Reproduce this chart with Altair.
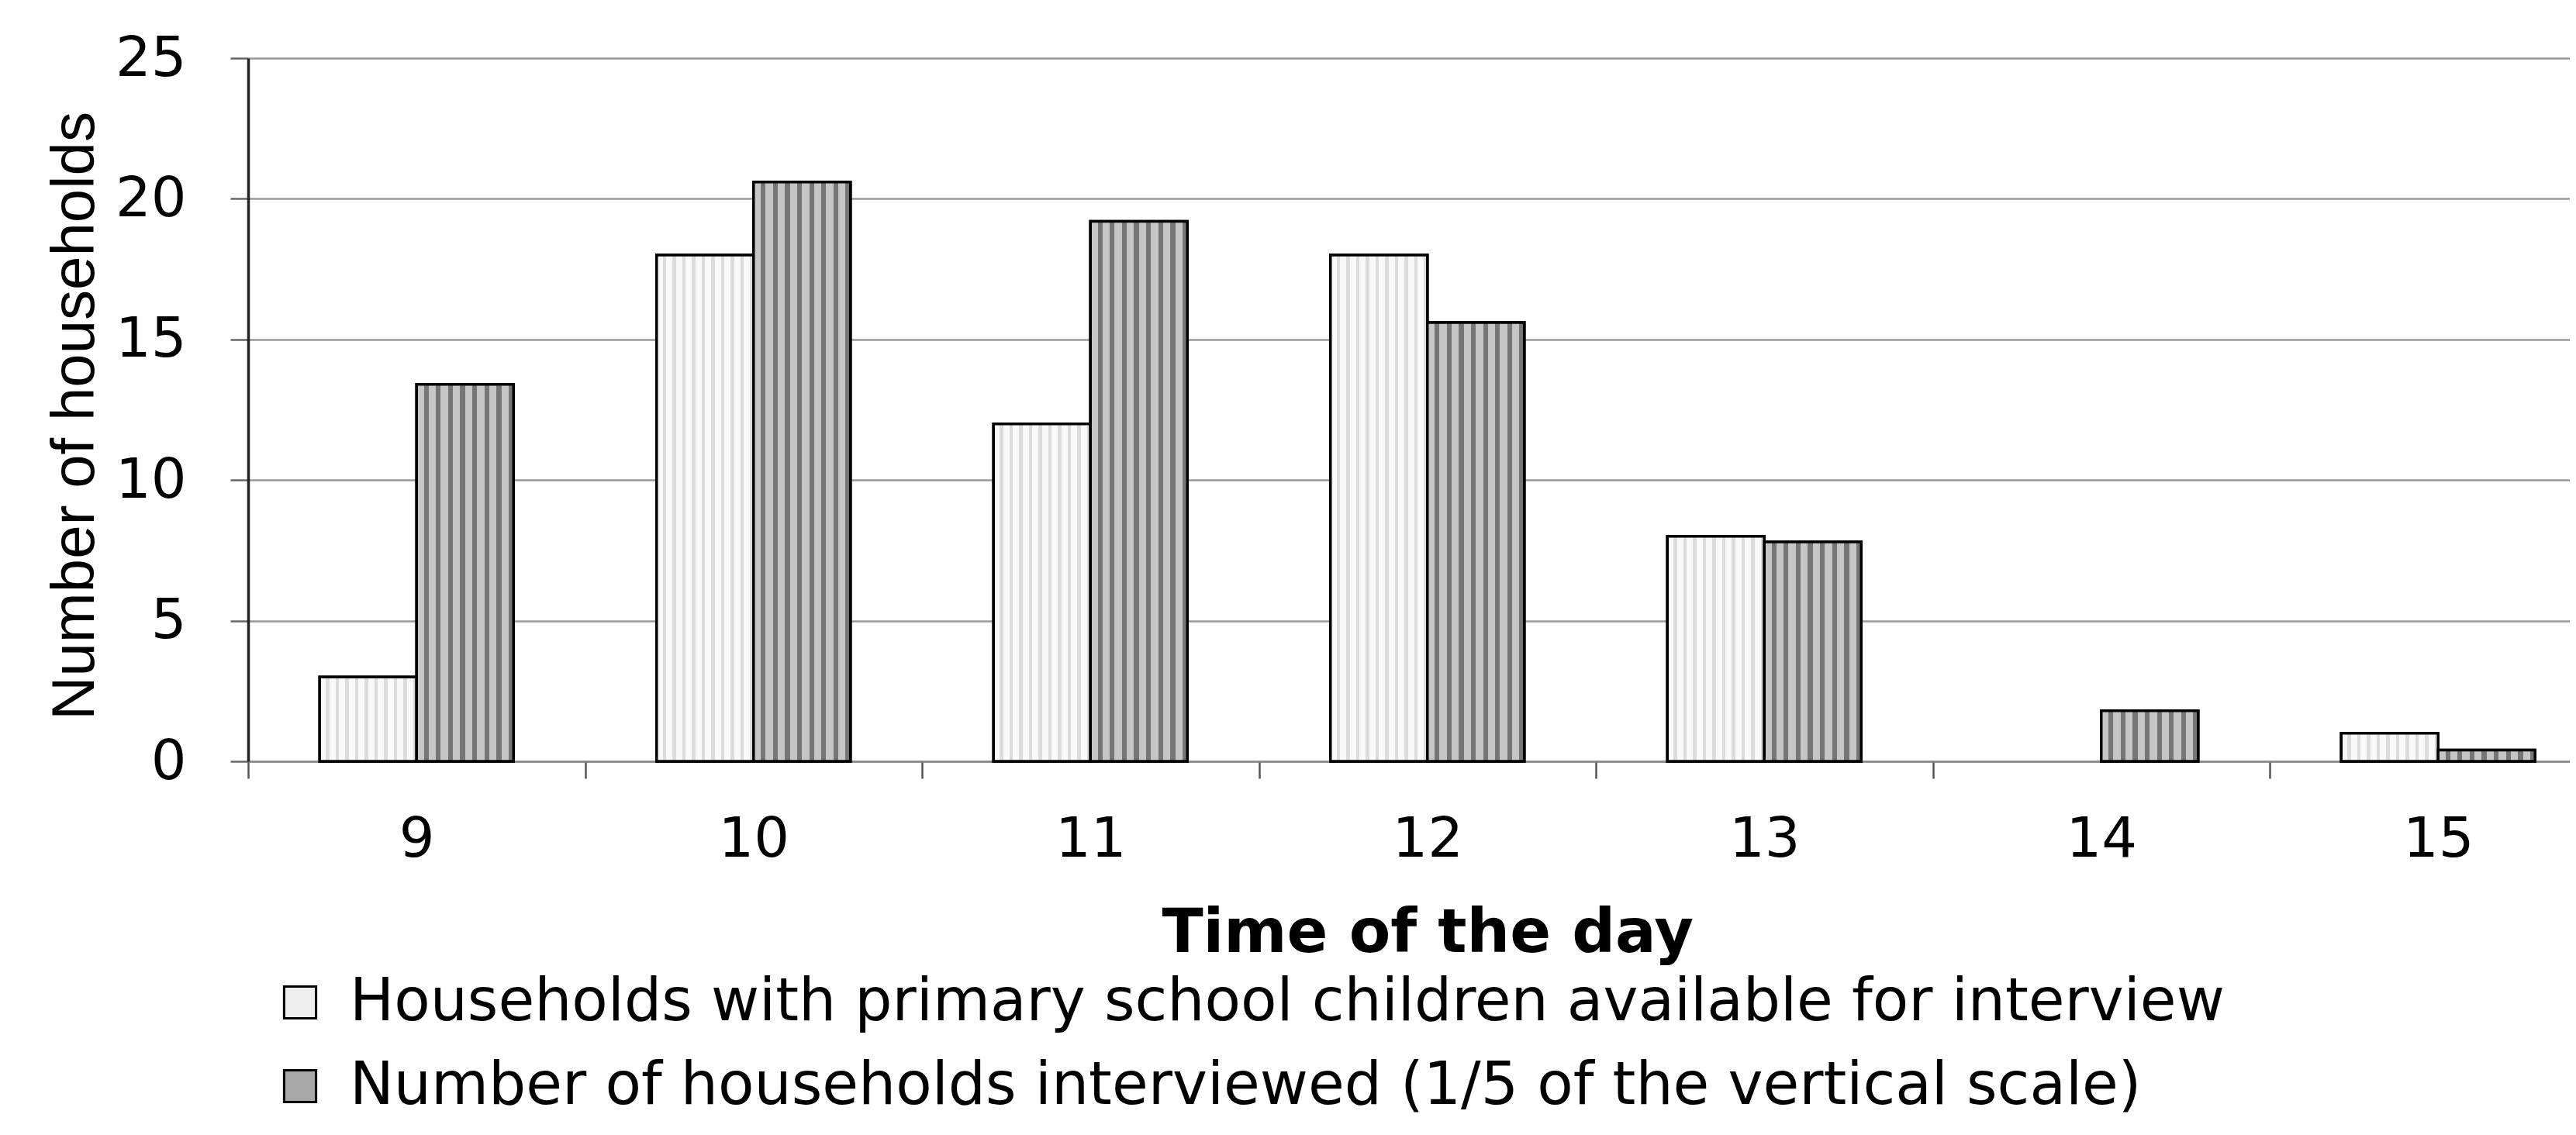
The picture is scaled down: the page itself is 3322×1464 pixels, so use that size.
import altair as alt
import pandas as pd

# ---- data ----
hours = [9, 10, 11, 12, 13, 14, 15]
available = [3, 18, 12, 18, 8, 0, 1]
interviewed_fifth = [13.4, 20.6, 19.2, 15.6, 7.8, 1.8, 0.4]
series_names = [
    "Households with primary school children available for interview",
    "Number of households interviewed  (1/5 of the vertical scale)",
]
y_ticks = [0, 5, 10, 15, 20, 25]

rows = []
for h, a, b in zip(hours, available, interviewed_fifth):
    rows.append({"hour": h, "series": series_names[0], "value": a})
    rows.append({"hour": h, "series": series_names[1], "value": b})
df = pd.DataFrame(rows)


def stripes(n, c_bg, c_line, frac):
    stops = []
    for i in range(n):
        s = i / n
        m = s + (1 - frac) / n
        e = (i + 1) / n
        stops += [
            alt.GradientStop(color=c_bg, offset=s),
            alt.GradientStop(color=c_bg, offset=m),
            alt.GradientStop(color=c_line, offset=m),
            alt.GradientStop(color=c_line, offset=e),
        ]
    return alt.LinearGradient(gradient="linear", stops=stops, x1=0, x2=1, y1=0, y2=0)


dark_fill = stripes(8, "#c6c6c6", "#767676", 0.4)
light_fill = stripes(10, "#f9f9f9", "#dcdcdc", 0.35)

x_enc = alt.X(
    "hour:O",
    scale=alt.Scale(range=[0, 3041.5], paddingInner=0, paddingOuter=0),
    axis=alt.Axis(
        title="Time of the day",
        titleFont="DejaVu Sans",
        titleFontSize=78,
        titleFontWeight="bold",
        titleColor="black",
        titleBaseline="alphabetic",
        titleY=245,
        labelAngle=0,
        labelFont="DejaVu Sans",
        labelFontSize=72,
        labelColor="black",
        labelPadding=43,
        labelBaseline="top",
        tickBand="extent",
        tickSize=22,
        tickColor="#555555",
        tickWidth=2.5,
        domainColor="#888888",
        domainWidth=2.5,
        grid=False,
    ),
)
xoff_enc = alt.XOffset(
    "series:N",
    scale=alt.Scale(domain=series_names, paddingInner=0, paddingOuter=0.738),
)
y_enc = alt.Y(
    "value:Q",
    scale=alt.Scale(domain=[0, 25], nice=False),
    axis=alt.Axis(
        title="Number of households",
        titleFont="Liberation Sans",
        titleFontSize=78,
        titleFontWeight="normal",
        titleColor="black",
        titleAngle=270,
        titleAlign="center",
        titleBaseline="alphabetic",
        titleX=-200,
        titleY=461,
        values=y_ticks,
        labelFont="DejaVu Sans",
        labelFontSize=72,
        labelColor="black",
        labelPadding=57,
        tickSize=23,
        tickColor="#666666",
        tickWidth=2.5,
        domainColor="#222222",
        domainWidth=3.5,
        gridColor="#999999",
        gridWidth=2.5,
    ),
)

base = alt.Chart(df).transform_filter("datum.value > 0")

legend_layer = base.mark_bar(stroke="black", strokeWidth=3.5).encode(
    x=x_enc,
    xOffset=xoff_enc,
    y=y_enc,
    fill=alt.Fill(
        "series:N",
        scale=alt.Scale(domain=series_names, range=["#eeeeee", "#a8a8a8"]),
        legend=alt.Legend(
            title=None,
            orient="none",
            legendX=29,
            legendY=1180,
            direction="vertical",
            symbolType="square",
            symbolSize=1700,
            symbolStrokeColor="black",
            symbolStrokeWidth=3,
            labelFont="DejaVu Sans",
            labelFontSize=76,
            labelColor="black",
            labelLimit=4000,
            labelOffset=26,
            rowPadding=32,
            padding=0,
        ),
    ),
)

light_layer = base.transform_filter(
    alt.datum.series == series_names[0]
).mark_bar(fill=light_fill, stroke="black", strokeWidth=3.5).encode(
    x=x_enc, xOffset=xoff_enc, y=y_enc
)

dark_layer = base.transform_filter(
    alt.datum.series == series_names[1]
).mark_bar(fill=dark_fill, stroke="black", strokeWidth=3.5).encode(
    x=x_enc, xOffset=xoff_enc, y=y_enc
)

chart = (
    alt.layer(legend_layer, light_layer, dark_layer)
    .properties(
        width=2994,
        height=907,
        autosize=alt.AutoSizeParams(type="none"),
        padding={"left": 312, "top": 67, "right": 0, "bottom": 466},
        background="white",
    )
    .configure_view(strokeWidth=0)
)

chart.save("out.html", embed_options={"renderer": "svg", "actions": False})
